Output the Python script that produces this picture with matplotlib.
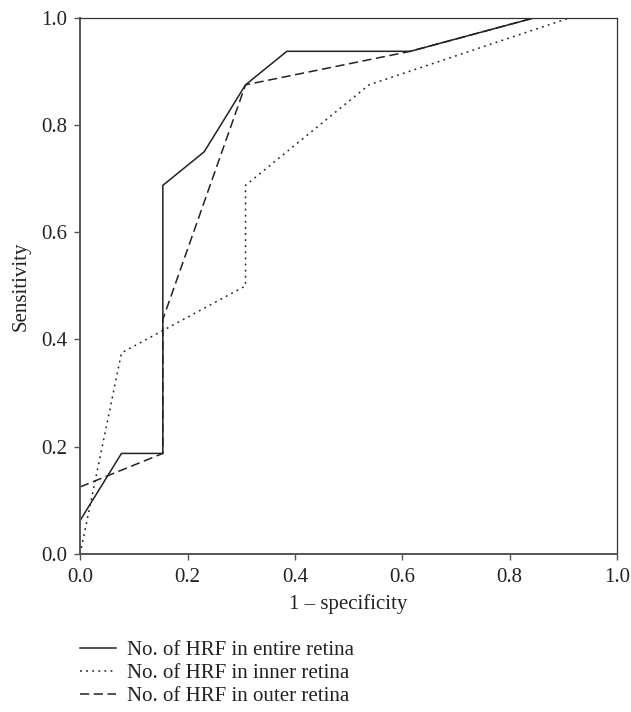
"""ROC curves for HRF counts"""

import matplotlib
matplotlib.use("Agg")
from matplotlib import pyplot as plt

# 1 - specificity / sensitivity for each predictor
entire_x = [0.0, 0.077, 0.154, 0.154, 0.231, 0.308, 0.385, 0.615, 0.846, 1.0]
entire_y = [0.0625, 0.1875, 0.1875, 0.6875, 0.75, 0.875, 0.9375, 0.9375, 1.0, 1.0]

inner_x = [0.0, 0.077, 0.308, 0.308, 0.538, 0.912, 1.0]
inner_y = [0.0, 0.375, 0.5, 0.6875, 0.875, 1.0, 1.0]

outer_x = [0.0, 0.154, 0.154, 0.308, 0.615, 0.846, 1.0]
outer_y = [0.125, 0.1875, 0.4375, 0.875, 0.9375, 1.0, 1.0]

labels = ["No. of HRF in entire retina",
          "No. of HRF in inner retina",
          "No. of HRF in outer retina"]
ticks = [0.0, 0.2, 0.4, 0.6, 0.8, 1.0]

plt.rcParams['font.family'] = ['Liberation Serif', 'DejaVu Serif']

fig = plt.figure(figsize=(6.31, 7.12), dpi=100)
ax = fig.add_axes([0.127, 0.222, 0.851, 0.753])

c = '#222222'
ax.plot(entire_x, entire_y, color=c, lw=1.1, ls='-', label=labels[0])
ax.plot(inner_x, inner_y, color=c, lw=1.1, ls=(0, (1.2, 2.8)), label=labels[1])
ax.plot(outer_x, outer_y, color=c, lw=1.1, ls=(0, (6, 3)), label=labels[2])

ax.set_xlim(0, 1)
ax.set_ylim(0, 1)
ax.set_xticks(ticks)
ax.set_yticks(ticks)
ax.set_xticklabels(["%.1f" % t for t in ticks])
ax.set_yticklabels(["%.1f" % t for t in ticks])
ax.tick_params(direction='out', length=4, width=1, color='#555555',
               labelsize=15, labelcolor='#222222', pad=5)
ax.tick_params(axis='x', pad=6)
for side in ['left', 'bottom']:
    ax.spines[side].set_color('#555555')
    ax.spines[side].set_linewidth(1.4)
for side in ['top', 'right']:
    ax.spines[side].set_color('#333333')
    ax.spines[side].set_linewidth(0.9)

ax.set_xlabel("1 \u2013 specificity", fontsize=15, color='#222222', labelpad=5)
ax.set_ylabel("Sensitivity", fontsize=15, color='#222222', labelpad=8)

fig.legend(loc='upper left', bbox_to_anchor=(0.127, 0.100), frameon=False,
           fontsize=15, handlelength=1.7, handletextpad=0.55, labelspacing=0.15,
           borderpad=0, borderaxespad=0, labelcolor='#222222')

plt.savefig("out.png", dpi=100)
